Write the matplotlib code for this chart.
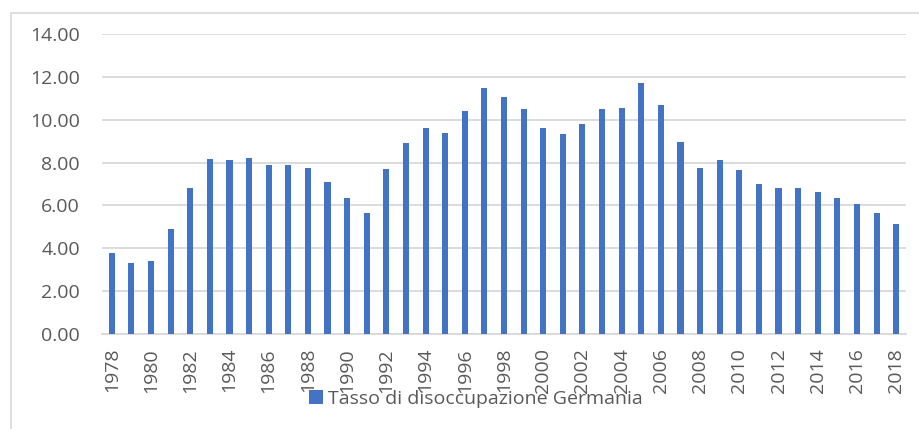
import numpy as np
import matplotlib
matplotlib.use("Agg")
import matplotlib.pyplot as plt
from matplotlib.patches import Rectangle

# Tasso di disoccupazione Germania, 1978-2018
anni = list(range(1978, 2019))
tasso = [3.8, 3.3, 3.4, 4.9, 6.8, 8.15, 8.1, 8.2, 7.9, 7.9,
         7.75, 7.1, 6.35, 5.65, 7.7, 8.9, 9.6, 9.4, 10.4, 11.5,
         11.05, 10.5, 9.6, 9.35, 9.8, 10.5, 10.55, 11.7, 10.7, 8.95,
         7.75, 8.1, 7.65, 7.0, 6.8, 6.83, 6.65, 6.35, 6.05, 5.65,
         5.15]
serie = "Tasso di disoccupazione Germania"
yticks = [0, 2, 4, 6, 8, 10, 12, 14]

blu = "#4472C4"
grigio_testo = "#595959"
grigio_griglia = "#D9D9D9"

plt.rcParams['font.family'] = ['Open Sans', 'DejaVu Sans']

fig = plt.figure(figsize=(9.19, 4.29), dpi=100)
ax = fig.add_axes([102/919, 1 - 334/429, (906 - 102)/919, (334 - 34)/429])

x = np.arange(len(anni))
ax.bar(x, tasso, width=0.31, color=blu, label=serie, zorder=3)

ax.set_xlim(-0.5, len(anni) - 0.5)
ax.set_ylim(0, 14)
ax.set_yticks(yticks)
ax.set_yticklabels([f"{v:.2f}" for v in yticks])
ax.set_xticks(x[::2])
ax.set_xticklabels([str(a) for a in anni[::2]], rotation=90)

ax.grid(axis='y', color=grigio_griglia, linewidth=1.3, zorder=0)
for s in ['top', 'right', 'left']:
    ax.spines[s].set_visible(False)
ax.spines['bottom'].set_color(grigio_griglia)
ax.spines['bottom'].set_linewidth(1.3)
ax.tick_params(axis='both', length=0, labelsize=14, colors=grigio_testo)
ax.tick_params(axis='y', pad=16)
ax.tick_params(axis='x', pad=10)

leg = fig.legend(loc='center', bbox_to_anchor=(476/919, 1 - 399/429),
                 frameon=False, fontsize=14, handlelength=0.7,
                 handleheight=0.7, handletextpad=0.3, borderpad=0)
for t in leg.get_texts():
    t.set_color(grigio_testo)

# cornice del grafico
fig.patches.append(Rectangle((11/919, -0.1), 1.1, 1 - 13/429 + 0.1,
                             transform=fig.transFigure, fill=False,
                             edgecolor=grigio_griglia, linewidth=1.2))

fig.savefig("out.png", dpi=100)
